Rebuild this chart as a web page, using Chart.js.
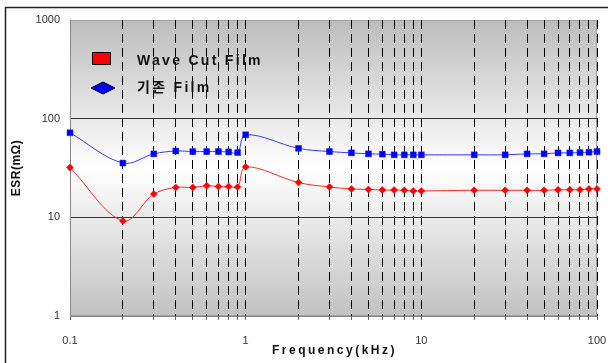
<!DOCTYPE html>
<html>
<head>
<meta charset="utf-8">
<script src="https://cdn.jsdelivr.net/npm/chart.js@4/dist/chart.umd.min.js"></script>
<style>
  body { margin: 0; background: #fff; }
</style>
</head>
<body>
<canvas id="myChart" width="608" height="363"></canvas>
<script>
// frequency (kHz)
var freq = [0.1, 0.2, 0.3, 0.4, 0.5, 0.6, 0.7, 0.8, 0.9,
            1, 2, 3, 4, 5, 6, 7, 8, 9,
            10, 20, 30, 40, 50, 60, 70, 80, 90, 100];
// ESR (mOhm)
var waveCut = [32, 9.2, 17.2, 20.1, 20.1, 20.9, 20.5, 20.5, 20.3,
               32.4, 22.5, 20.3, 19.4, 19.2, 18.9, 18.9, 18.8, 18.5,
               18.5, 18.8, 18.8, 18.8, 18.8, 19, 19, 19, 19.4, 19.4];
var existing = [72, 35.5, 44, 47, 46.4, 46.4, 46.4, 46, 45.3,
                68.7, 50, 46.4, 45, 44, 43.7, 43, 43, 43,
                43, 43, 43, 44, 44, 45, 45, 45.3, 45.7, 46.4];
var seriesNames = ['Wave Cut Film', '기존 Film'];
var xTicks = [0.1, 0.2, 0.3, 0.4, 0.5, 0.6, 0.7, 0.8, 0.9,
              1, 2, 3, 4, 5, 6, 7, 8, 9,
              10, 20, 30, 40, 50, 60, 70, 80, 90, 100];
var xLabels = [0.1, 1, 10, 100];
var yTicks = [1, 10, 100, 1000];
var xTitle = 'Frequency(kHz)';
var yTitle = 'ESR(mΩ)';

function toPoints(values) {
    return values.map(function (v, i) { return { x: freq[i], y: v }; });
}

var frame = {
    id: 'frame',
    beforeDraw: function (chart) {
        var ctx = chart.ctx, a = chart.chartArea;
        ctx.save();
        ctx.fillStyle = '#fff';
        ctx.fillRect(0, 0, chart.width, chart.height);
        ctx.strokeStyle = '#222';
        ctx.lineWidth = 1.5;
        ctx.beginPath();
        ctx.moveTo(5.5, chart.height);
        ctx.lineTo(5.5, 7.5);
        ctx.lineTo(chart.width, 7.5);
        ctx.stroke();
        var g = ctx.createLinearGradient(0, a.top, 0, a.bottom);
        g.addColorStop(0, '#bdbdbd');
        g.addColorStop(0.5, '#ffffff');
        g.addColorStop(1, '#c2c2c2');
        ctx.fillStyle = g;
        ctx.fillRect(a.left, a.top, a.right - a.left, a.bottom - a.top);
        ctx.strokeStyle = '#a0a0a0';
        ctx.lineWidth = 1;
        ctx.strokeRect(a.left + 0.5, a.top + 0.5, a.right - a.left - 1, a.bottom - a.top - 1);
        ctx.restore();
    },
    afterDraw: function (chart) {
        var ctx = chart.ctx, a = chart.chartArea;
        ctx.save();
        ctx.fillStyle = '#111';
        ctx.textBaseline = 'middle';

        // axis titles
        ctx.font = 'bold 12px "Liberation Sans", Arial, sans-serif';
        ctx.letterSpacing = '2.5px';
        ctx.textAlign = 'center';
        ctx.fillText(xTitle, (a.left + a.right) / 2 + 1, 351);
        ctx.save();
        ctx.translate(17, (a.top + a.bottom) / 2);
        ctx.rotate(-Math.PI / 2);
        ctx.letterSpacing = '0.5px';
        ctx.fillText(yTitle, 0, 0);
        ctx.restore();

        // legend
        ctx.lineWidth = 1;
        ctx.strokeStyle = '#000';
        ctx.fillStyle = '#ff0000';
        ctx.fillRect(92.5, 52.5, 18, 12);
        ctx.strokeRect(92.5, 52.5, 18, 12);
        ctx.fillStyle = '#0000ff';
        ctx.beginPath();
        ctx.moveTo(91, 88);
        ctx.lineTo(103, 82);
        ctx.lineTo(115, 88);
        ctx.lineTo(103, 94);
        ctx.closePath();
        ctx.fill();
        ctx.stroke();

        ctx.fillStyle = '#111';
        ctx.textAlign = 'left';
        ctx.font = 'bold 14px "Liberation Sans", Arial, sans-serif';
        ctx.letterSpacing = '2.3px';
        ctx.fillText(seriesNames[0], 137, 61);
        ctx.font = 'bold 14px "Liberation Sans", "Noto Sans CJK KR", sans-serif';
        ctx.fillText(seriesNames[1], 137, 88);
        ctx.restore();
    }
};

var ctx = document.getElementById('myChart').getContext('2d');
var myChart = new Chart(ctx, {
    type: 'line',
    data: {
        datasets: [{
            label: seriesNames[0],
            data: toPoints(waveCut),
            borderColor: '#ff2a2a',
            backgroundColor: '#ff0000',
            borderWidth: 1,
            pointStyle: 'rectRot',
            pointRadius: 3.5,
            pointBorderWidth: 0.5,
            pointBorderColor: '#ff0000',
            tension: 0.35,
            clip: false
        }, {
            label: seriesNames[1],
            data: toPoints(existing),
            borderColor: '#3a3aff',
            backgroundColor: '#0000ff',
            borderWidth: 1,
            pointStyle: 'rect',
            pointRadius: 4.2,
            pointBorderWidth: 0.5,
            pointBorderColor: '#2020ff',
            tension: 0.35,
            clip: false
        }]
    },
    options: {
        responsive: false,
        animation: false,
        layout: { padding: { left: 30, top: 20, right: 11, bottom: 0 } },
        plugins: {
            legend: { display: false },
            tooltip: { enabled: false }
        },
        scales: {
            x: {
                type: 'logarithmic',
                min: 0.1,
                max: 100,
                afterBuildTicks: function (scale) {
                    scale.ticks = xTicks.map(function (v) { return { value: v }; });
                },
                afterFit: function (scale) {
                    scale.height = 47;
                    scale.paddingLeft = 0;
                    scale.paddingRight = 0;
                },
                grid: {
                    color: '#000',
                    lineWidth: 1,
                    drawTicks: true,
                    tickLength: 4,
                    tickColor: '#666'
                },
                border: { display: true, color: '#888', dash: [9, 5] },
                ticks: {
                    autoSkip: false,
                    maxRotation: 0,
                    padding: 14,
                    color: '#333',
                    font: { family: '"Liberation Sans", Arial, sans-serif', size: 11 },
                    callback: function (v) {
                        return xLabels.indexOf(v) >= 0 ? String(v) : '';
                    }
                }
            },
            y: {
                type: 'logarithmic',
                min: 1,
                max: 1000,
                afterBuildTicks: function (scale) {
                    scale.ticks = yTicks.map(function (v) { return { value: v }; });
                },
                afterFit: function (scale) { scale.width = 40; },
                grid: {
                    color: function (c) {
                        var v = c.tick && c.tick.value;
                        return (v === 10 || v === 100) ? '#333' : 'rgba(0,0,0,0)';
                    },
                    lineWidth: 1,
                    drawTicks: false
                },
                border: { display: true, color: '#888' },
                ticks: {
                    padding: 10,
                    color: '#333',
                    font: { family: '"Liberation Sans", Arial, sans-serif', size: 11 },
                    callback: function (v) { return String(v); }
                }
            }
        }
    },
    plugins: [frame]
});
</script>
</body>
</html>
